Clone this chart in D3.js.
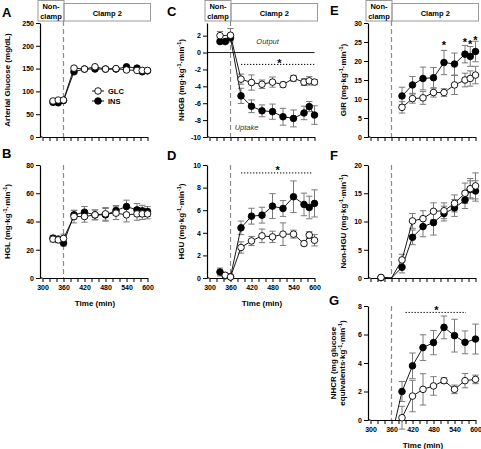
<!DOCTYPE html>
<html><head><meta charset="utf-8">
<script src="https://cdn.jsdelivr.net/npm/d3@7"></script>
<style>body{margin:0;background:#fff} text{font-family:"Liberation Sans",Arial,sans-serif}</style>
</head><body><svg id="c" width="481" height="449"></svg>
<script>
// ---------------- DATA ----------------
const timesAll = [330,345,360,390,420,450,480,510,540,570,585,600];
const timesClamp = [390,420,450,480,510,540,570,585,600];
const timesNHGU = [330,360,390,420,450,480,510,540,570,585,600];
const timesNHCR = [360,390,420,450,480,510,540,570,600];
const xTickValues = d3.range(300, 601, 20);
const xLabelValues = [300,360,420,480,540,600];
const seriesNames = ["GLC","INS"];

// A: arterial glucose
const glucoseGLC = [79,81,81,151,149,154,149,150,147,146,146,146];
const glucoseINS = [76,75,80,143,149,149,149,149,154,151,143,145];
const glucoseGLCse = [2,2,2,3,2,2,2,2,3,2,2,2];
const glucoseINSse = [2,2,2,3,2,2,2,2,3,2,2,2];
// B: HGL
const hglGLC = [27.5,27,28,43.5,43.5,44.7,45.4,45.9,44.7,45.4,45.4,45.4];
const hglINS = [28.2,27.5,24.7,44.7,46.6,44.7,44.7,47.8,50.6,48.2,47.5,47];
const hglGLCse = [2,2,3,4.5,4,3.5,4.5,4.5,5,4.5,4,3.5];
const hglINSse = [2,2,2,3,4,3.5,4.5,3.5,4.5,4.5,4,3.5];
// C: NHGB
const nhgbGLC = [2.0,null,2.05,-3.15,-3.55,-3.75,-3.5,-3.8,-3.05,-3.5,-3.35,-3.5];
const nhgbINS = [1.3,1.3,1.75,-5.13,-6.36,-6.9,-7.0,-7.6,-7.8,-7.15,-6.4,-7.4];
const nhgbGLCse = [0.5,null,0.8,0.6,0.9,0.5,0.6,0.3,0.35,0.4,0.5,0.3];
const nhgbINSse = [0.2,0.2,0.3,0.9,0.75,0.7,0.9,1.0,1.0,0.8,0.6,1.1];
const nhgbStarTimes = [500], nhgbStarValues = [-1.0];
const nhgbSigRange = [390,600], nhgbSigLevel = -1.4;
// D: HGU
const hguGLC = [null,0.24,0.09,2.7,3.28,3.73,3.64,3.88,3.88,3.05,3.8,3.34];
const hguINS = [0.53,0.2,0.1,4.44,5.47,5.56,6.36,6.15,7.19,6.51,6.24,6.6];
const hguGLCse = [null,0.1,0.1,0.5,0.4,0.6,0.5,1.0,0.35,0.2,0.3,0.5];
const hguINSse = [0.35,0.1,0.1,0.6,0.7,0.7,1.1,0.7,1.4,1.0,1.0,1.2];
const hguStarTimes = [495], hguStarValues = [9.7];
const hguSigRange = [390,595], hguSigLevel = 9.3;
// E: GIR
const girGLC = [7.8,10.1,10.3,11.7,11.7,13.7,15.0,15.4,16.3];
const girINS = [10.8,13.7,15.4,15.6,19.6,19.2,21.8,21.2,22.5];
const girGLCse = [1.5,1.2,1.7,1.2,1.0,2.5,1.8,2.0,2.3];
const girINSse = [2.3,2.2,3.0,2.7,3.2,2.9,2.3,2.6,2.7];
const girStarTimes = [510,570,585,600], girStarValues = [24.8,25.5,25.1,26];
// F: Non-HGU
const nhguGLC = [0.1,0,3.2,10.1,10.5,11.8,11.9,13.2,15.0,15.8,16.3];
const nhguINS = [0.05,0,1.9,7.2,9.1,9.8,11.4,12.4,13.8,15.7,15.4];
const nhguGLCse = [0,0,1.0,1.3,1.4,1.5,1.4,1.5,1.8,1.8,2.3];
const nhguINSse = [0,0,1.0,1.3,1.8,2.2,1.3,1.5,1.5,1.5,1.8];
// G: NHCR
const nhcrGLC = [null,0.16,1.68,2.15,2.39,2.76,2.15,2.76,2.85];
const nhcrINS = [-1.2,2.0,3.8,5.08,5.43,6.5,5.92,5.45,5.68];
const nhcrGLCse = [null,0.8,1.1,1.1,0.65,0.2,0.3,0.5,0.3];
const nhcrINSse = [0,0.7,0.9,0.9,0.85,0.8,1.15,0.8,1.05];
const nhcrStarTimes = [488], nhcrStarValues = [7.84];
const nhcrSigRange = [400,573], nhcrSigLevel = 7.55;

// ---------------- LAYOUT ----------------
const unit = (name) => [[name+" (mg",0],["·kg",0],["-1",1],["·min",0],["-1",1],[")",0]];
const panels = [
  {L:"A", lx:2, ly:17, times:timesAll, glc:glucoseGLC, ins:glucoseINS, glcSe:glucoseGLCse, insSe:glucoseINSse,
   axisX:40, top:23, bottom:137, domain:[0,250], ticks:d3.range(0,251,50), titles:[[["Arterial Glucose (mg/dL)",0]]], titleX:[7], header:true, xLabels:false, legend:true},
  {L:"B", lx:2, ly:158, times:timesAll, glc:hglGLC, ins:hglINS, glcSe:hglGLCse, insSe:hglINSse,
   axisX:40, top:165, bottom:278, domain:[0,80], ticks:d3.range(0,81,20), titles:[unit("HGL")], titleX:[7], xLabels:true},
  {L:"C", lx:167, ly:16, times:timesAll, glc:nhgbGLC, ins:nhgbINS, glcSe:nhgbGLCse, insSe:nhgbINSse,
   axisX:207, top:23, bottom:137, domain:[-10,3.5], ticks:d3.range(-10,3,2), titles:[unit("NHGB")], titleX:[181], header:true, xLabels:false,
   zeroLine:true, stars:[nhgbStarTimes,nhgbStarValues], sig:[nhgbSigRange,nhgbSigLevel],
   notes:[["Output",466,1.0],["Uptake",406,-9.17]]},
  {L:"D", lx:167, ly:160, times:timesAll, glc:hguGLC, ins:hguINS, glcSe:hguGLCse, insSe:hguINSse,
   axisX:207, top:165, bottom:278, domain:[0,10], ticks:d3.range(0,11,2), titles:[unit("HGU")], titleX:[181], xLabels:true,
   stars:[hguStarTimes,hguStarValues], sig:[hguSigRange,hguSigLevel]},
  {L:"E", lx:330, ly:15, times:timesClamp, glc:girGLC, ins:girINS, glcSe:girGLCse, insSe:girINSse,
   axisX:368, top:23, bottom:137, domain:[0,30], ticks:d3.range(0,31,5), titles:[unit("GIR")], titleX:[343], header:true, xLabels:false,
   stars:[girStarTimes,girStarValues]},
  {L:"F", lx:330, ly:160, times:timesNHGU, glc:nhguGLC, ins:nhguINS, glcSe:nhguGLCse, insSe:nhguINSse, noMarker:[360],
   axisX:368, top:165, bottom:278, domain:[0,20], ticks:d3.range(0,21,5), titles:[unit("Non-HGU")], titleX:[343], xLabels:false},
  {L:"G", lx:329, ly:305, times:timesNHCR, glc:nhcrGLC, ins:nhcrINS, glcSe:nhcrGLCse, insSe:nhcrINSse, noMarker:[360],
   axisX:368, top:306, bottom:420, domain:[0,8], ticks:d3.range(0,9,2),
   titles:[[["NHCR (mg glucose",0]],[["equivalents·kg",0],["-1",1],["·min",0],["-1",1],[")",0]]], titleX:[333,342], xLabels:true,
   stars:[nhcrStarTimes,nhcrStarValues], sig:[nhcrSigRange,nhcrSigLevel]}
];

const svg = d3.select("#c");
const FONT = '"Liberation Sans",Arial,sans-serif';

panels.forEach((p, pi) => {
  const x = d3.scaleLinear().domain([300,600]).range([p.axisX+2.5, p.axisX+107.5]);
  const y = d3.scaleLinear().domain(p.domain).range([p.bottom, p.top]);
  const g = svg.append("g");

  // panel letter
  g.append("text").attr("x",p.lx).attr("y",p.ly).text(p.L)
    .attr("font-size",13).attr("font-weight","bold");

  // header boxes
  if (p.header) {
    const xl = p.axisX-2, xm = x(360)+0.5, xr = x(600)+3;
    g.append("rect").attr("x",xl).attr("y",0.5).attr("width",xm-xl).attr("height",20.5)
      .attr("fill","none").attr("stroke","#999").attr("stroke-width",1);
    g.append("rect").attr("x",xm).attr("y",3.5).attr("width",xr-xm).attr("height",17.5)
      .attr("fill","none").attr("stroke","#999").attr("stroke-width",1);
    const ht = g.append("g").attr("font-size",7.5).attr("font-weight","bold").attr("text-anchor","middle");
    ht.append("text").attr("x",(xl+xm)/2).attr("y",9).text("Non-");
    ht.append("text").attr("x",(xl+xm)/2).attr("y",18.5).text("clamp");
    ht.append("text").attr("x",(xm+xr)/2).attr("y",16).text("Clamp 2");
  }

  // dashed line at 360
  g.append("line").attr("x1",x(360)).attr("x2",x(360))
    .attr("y1",p.header?21:p.top).attr("y2",p.bottom)
    .attr("stroke","#8c8c8c").attr("stroke-width",1.2).attr("stroke-dasharray","5,3");

  // y axis
  const ya = g.append("g").attr("transform",`translate(${p.axisX},0)`)
    .call(d3.axisLeft(y).tickValues(p.ticks).tickSize(4).tickSizeOuter(0).tickPadding(2).tickFormat(d=>String(d)));
  // x axis
  const xa = g.append("g").attr("transform",`translate(0,${p.bottom})`)
    .call(d3.axisBottom(x).tickValues(xTickValues).tickSize(4).tickSizeOuter(0).tickPadding(3)
      .tickFormat(d => (p.xLabels && xLabelValues.includes(d)) ? String(d) : ""));
  g.append("line").attr("x1",p.axisX).attr("x2",x(300)).attr("y1",p.bottom).attr("y2",p.bottom)
    .attr("stroke","#000").attr("stroke-width",1.2);
  [ya,xa].forEach(a=>{
    a.attr("font-family",FONT).attr("font-size",7).attr("font-weight","bold");
    a.selectAll("path.domain").attr("stroke-width",1.2);
    a.selectAll(".tick line").attr("stroke-width",1);
  });
  if (p.xLabels) {
    g.append("text").attr("x",x(450)).attr("y",p.bottom+28).attr("text-anchor","middle")
      .attr("font-size",8).attr("font-weight","bold").text("Time (min)");
  }

  // y titles
  p.titles.forEach((segs, ti) => {
    const t = g.append("text").attr("transform",`translate(${p.titleX[ti]},${(p.top+p.bottom)/2}) rotate(-90)`)
      .attr("text-anchor","middle").attr("y",3).attr("font-size",8).attr("font-weight","bold");
    let prevSup = 0;
    segs.forEach(([s,sup]) => {
      const ts = t.append("tspan").text(s);
      if (sup) ts.attr("font-size",5.5).attr("dy",-3);
      else if (prevSup) ts.attr("dy",3);
      prevSup = sup;
    });
  });

  // zero line
  if (p.zeroLine) {
    g.append("line").attr("x1",p.axisX).attr("x2",x(600)).attr("y1",y(0)).attr("y2",y(0))
      .attr("stroke","#000").attr("stroke-width",0.9);
  }
  // annotations
  (p.notes||[]).forEach(([s,t,v]) => {
    g.append("text").attr("x",x(t)).attr("y",y(v)).attr("text-anchor","middle")
      .attr("font-size",7.5).attr("font-style","italic").attr("fill","#333").text(s);
  });
  // significance dotted line and stars
  if (p.sig) {
    g.append("line").attr("x1",x(p.sig[0][0])).attr("x2",x(p.sig[0][1]))
      .attr("y1",y(p.sig[1])).attr("y2",y(p.sig[1]))
      .attr("stroke","#000").attr("stroke-width",1).attr("stroke-dasharray","1.3,1.7");
  }
  if (p.stars) {
    p.stars[0].forEach((t,i) => {
      g.append("text").attr("x",x(t)).attr("y",y(p.stars[1][i])+6).attr("text-anchor","middle")
        .attr("font-size",11).attr("font-weight","bold").text("*");
    });
  }

  // clip for lines
  const cid = "clip"+pi;
  svg.append("clipPath").attr("id",cid).append("rect")
    .attr("x",p.axisX).attr("y",p.top-6).attr("width",115).attr("height",p.bottom-p.top+6);

  const series = [
    {name:"INS", vals:p.ins, se:p.insSe, fill:"#000"},
    {name:"GLC", vals:p.glc, se:p.glcSe, fill:"#fff"}
  ].map(s => ({...s, pts: p.times.map((t,i)=>({t, v:s.vals[i], e:s.se[i]})).filter(d=>d.v!==null)}));

  // error bars
  series.forEach(s => {
    s.pts.filter(d=>d.e>0 && d.v>=p.domain[0]).forEach(d => {
      const eb = g.append("g").attr("stroke","#7a7a7a").attr("stroke-width",1);
      eb.append("line").attr("x1",x(d.t)).attr("x2",x(d.t)).attr("y1",y(d.v-d.e)).attr("y2",y(d.v+d.e));
      [d.v-d.e, d.v+d.e].forEach(vv => eb.append("line").attr("x1",x(d.t)-3.2).attr("x2",x(d.t)+3.2).attr("y1",y(vv)).attr("y2",y(vv)));
    });
  });
  // lines
  const line = d3.line().x(d=>x(d.t)).y(d=>y(d.v));
  series.forEach(s => {
    g.append("path").datum(s.pts).attr("d",line).attr("fill","none")
      .attr("stroke","#000").attr("stroke-width",0.9).attr("clip-path",`url(#${cid})`);
  });
  // markers
  series.forEach(s => {
    g.selectAll(null).data(s.pts.filter(d => d.v>=p.domain[0] && !(p.noMarker||[]).includes(d.t)))
      .join("circle").attr("cx",d=>x(d.t)).attr("cy",d=>y(d.v)).attr("r",3.3)
      .attr("fill",s.fill).attr("stroke","#000").attr("stroke-width",0.9);
  });

  // legend
  if (p.legend) {
    [["GLC","#fff",91],["INS","#000",101]].forEach(([nm,f,yy]) => {
      g.append("line").attr("x1",92).attr("x2",104).attr("y1",yy).attr("y2",yy).attr("stroke","#000").attr("stroke-width",0.9);
      g.append("circle").attr("cx",98).attr("cy",yy).attr("r",3.3).attr("fill",f).attr("stroke","#000").attr("stroke-width",0.9);
      g.append("text").attr("x",108).attr("y",yy+2.5).attr("font-size",7.5).attr("font-weight","bold").text(nm);
    });
  }
});
</script></body></html>
